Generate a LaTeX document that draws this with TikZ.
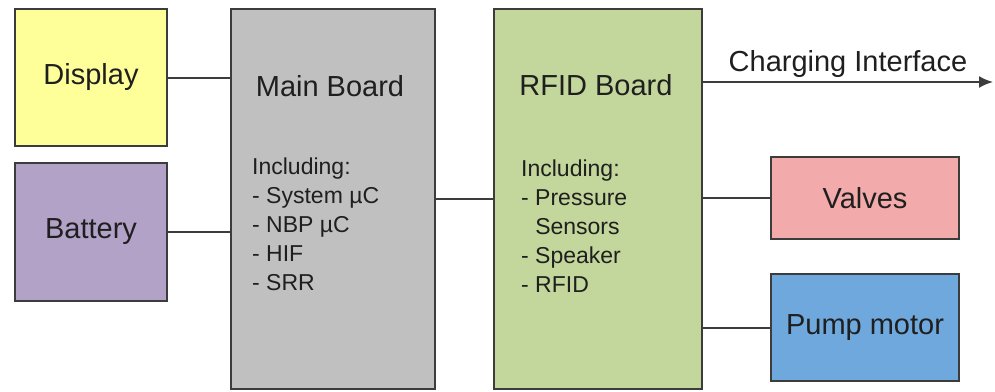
\documentclass[tikz,border=0pt]{standalone}
\usepackage{fontspec}
\setmainfont{Liberation Sans}
\usetikzlibrary{arrows.meta,positioning}
\definecolor{dispyellow}{RGB}{255,255,153}
\definecolor{battpurple}{RGB}{179,162,199}
\definecolor{boardgray}{RGB}{192,192,192}
\definecolor{rfidgreen}{RGB}{195,214,155}
\definecolor{valvepink}{RGB}{242,170,170}
\definecolor{pumpblue}{RGB}{111,168,220}
\definecolor{edgegray}{RGB}{60,60,60}
\tikzset{
	block/.style={draw=edgegray, line width=2pt, inner sep=0pt},
	title/.style={font=\fontsize{29}{34}\selectfont, text=black!88},
	parts/.style={font=\fontsize{23}{28.8}\selectfont, text=black!88, align=left, anchor=north west, inner sep=0pt},
	wire/.style={draw=edgegray, line width=2pt}, % plain connector
}
\begin{document}
\begin{tikzpicture}[x=1pt,y=-1pt]
	\useasboundingbox (0,0) rectangle (995,391);
	% left column
	\node[block, title, fill=dispyellow, minimum width=152pt, minimum height=137pt] (disp) at (91,77.5) {Display};
	\node[block, title, fill=battpurple, minimum width=152pt, minimum height=138pt] (batt) at (91,232) {Battery};
	% boards
	\node[block, fill=boardgray, minimum width=204pt, minimum height=380pt] (main) at (333,199) {};
	\node[title] (mainttl) at (330,86) {Main Board};
	\node[parts] (mainparts) at (252,158) {Including:\\- System µC\\- NBP µC\\- HIF\\- SRR};
	\node[block, fill=rfidgreen, minimum width=208pt, minimum height=380pt] (rfid) at (598,199) {};
	\node[title] (rfidttl) at (596,85) {RFID Board};
	\node[parts] (rfidparts) at (521,160) {Including:\\- Pressure\\\hphantom{-} Sensors\\- Speaker\\- RFID};
	% right column
	\node[block, title, fill=valvepink, minimum width=188pt, minimum height=82pt] (valves) at (865,198) {Valves};
	\node[block, title, fill=pumpblue, minimum width=188pt, minimum height=107pt] (pump) at (865,327.5) {Pump motor};
	\coordinate (chgend) at (993,82);

	\draw[wire] (disp.east) -- (disp.east -| main.west);
	\draw[wire] (batt.east) -- (batt.east -| main.west);
	\draw[wire] (main) -- (rfid);
	\draw[wire] (valves.west -| rfid.east) -- (valves.west);
	\draw[wire] (pump.west -| rfid.east) -- (pump.west);
	\draw[wire, -{Latex[length=14pt,width=12pt]}] (rfid.east |- chgend) -- (chgend)
		node[midway, above, title] (chgttl) {Charging Interface};
\end{tikzpicture}
\end{document}
